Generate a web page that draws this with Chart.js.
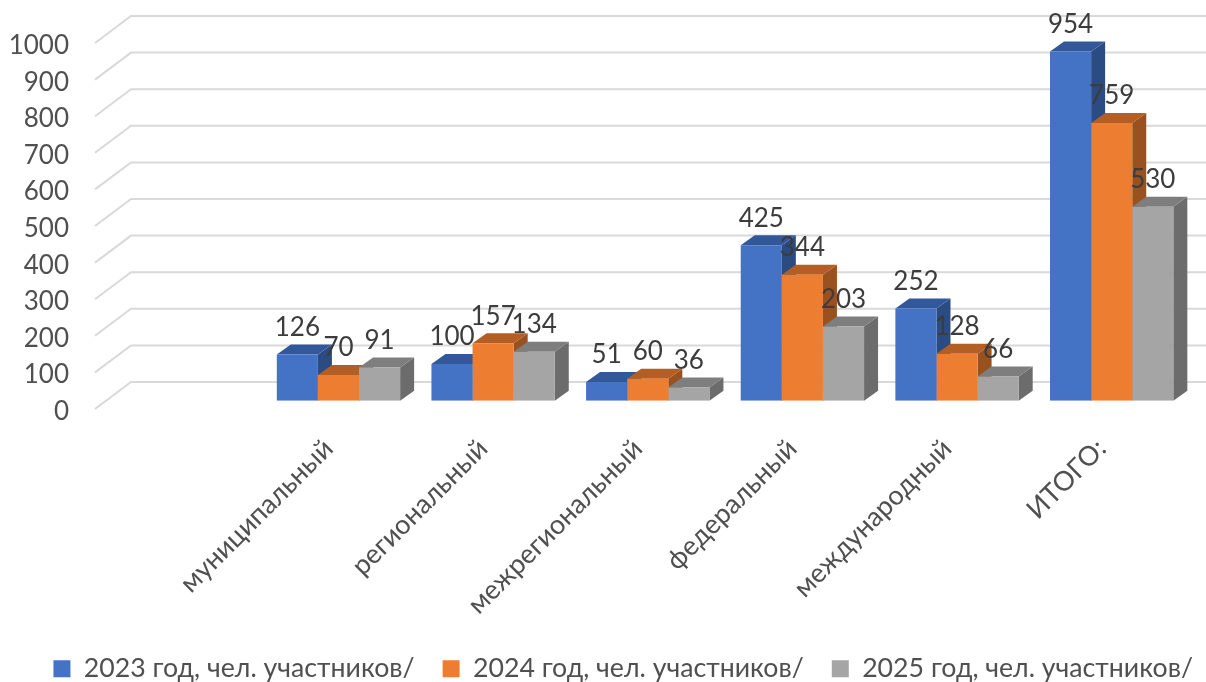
<!DOCTYPE html>
<html>
<head>
<meta charset="utf-8">
<script src="https://cdn.jsdelivr.net/npm/chart.js@4"></script>
<style>
  html, body { margin: 0; padding: 0; background: #fff; }
  #chart { display: block; }
</style>
</head>
<body>
<canvas id="chart" width="1206" height="682"></canvas>
<script>
// first category is blank, the source table has an empty row there
const categories = ['', 'муниципальный', 'региональный', 'межрегиональный', 'федеральный', 'международный', 'ИТОГО:'];
const values2023 = [null, 126, 100, 51, 425, 252, 954];
const values2024 = [null, 70, 157, 60, 344, 128, 759];
const values2025 = [null, 91, 134, 36, 203, 66, 530];
const seriesNames = ['2023 год, чел. участников/', '2024 год, чел. участников/', '2025 год, чел. участников/'];
const frontColors = ['#4472C4', '#ED7D31', '#A5A5A5'];
const topColors = ['#335899', '#B25E25', '#7E7E7E'];
const sideColors = ['#2B4B83', '#9A5120', '#6C6C6C'];

const FONT = 'Lato, "Open Sans", sans-serif';
const BAR_DX = 14, BAR_DY = 10;

// fake 3D: back wall grid + left wall diagonals, bar sides, value labels
const depthPlugin = {
    id: 'depth',
    afterLayout(chart) {
        // nudge the legend, it isn't centred in the original
        const legend = chart.legend;
        legend.left += 20.2;
        legend.right += 20.2;
        legend.top += 10.2;
        legend.bottom += 10.2;
    },
    beforeDatasetsDraw(chart) {
        const { ctx, scales: { x, y } } = chart;
        ctx.save();
        ctx.strokeStyle = '#D9D9D9';
        ctx.lineWidth = 2;
        y.ticks.forEach(t => {
            const py = y.getPixelForValue(t.value);
            ctx.beginPath();
            ctx.moveTo(x.left - 11.5, py + 8.3);
            ctx.lineTo(x.left + 24.5, py - 18.7);
            ctx.lineTo(chart.width, py - 18.7);
            ctx.stroke();
        });
        // sides and tops go under the native bars, in series order
        chart.data.datasets.forEach((ds, i) => {
            chart.getDatasetMeta(i).data.forEach((bar, j) => {
                if (ds.data[j] == null) return;
                const half = bar.width / 2;
                const l = bar.x - half, r = bar.x + half;
                ctx.fillStyle = sideColors[i];
                ctx.beginPath();
                ctx.moveTo(r, bar.y);
                ctx.lineTo(r + BAR_DX, bar.y - BAR_DY);
                ctx.lineTo(r + BAR_DX, bar.base - BAR_DY);
                ctx.lineTo(r, bar.base);
                ctx.fill();
                ctx.fillStyle = topColors[i];
                ctx.beginPath();
                ctx.moveTo(l, bar.y);
                ctx.lineTo(l + BAR_DX, bar.y - BAR_DY);
                ctx.lineTo(r + BAR_DX, bar.y - BAR_DY);
                ctx.lineTo(r, bar.y);
                ctx.fill();
            });
        });
        ctx.restore();
    },
    afterDatasetsDraw(chart) {
        const { ctx } = chart;
        ctx.save();
        ctx.fillStyle = '#3C3C3C';
        ctx.font = '26px ' + FONT;
        ctx.textAlign = 'center';
        ctx.textBaseline = 'middle';
        chart.data.datasets.forEach((ds, i) => {
            chart.getDatasetMeta(i).data.forEach((bar, j) => {
                if (ds.data[j] == null) return;
                ctx.fillText(ds.data[j], bar.x, bar.y - 27);
            });
        });
        ctx.restore();
    }
};

new Chart(document.getElementById('chart'), {
    type: 'bar',
    data: {
        labels: categories,
        datasets: [values2023, values2024, values2025].map((vals, i) => ({
            label: seriesNames[i],
            data: vals,
            backgroundColor: frontColors[i],
            categoryPercentage: 0.7975,
            barPercentage: 1
        }))
    },
    plugins: [depthPlugin],
    options: {
        responsive: false,
        animation: false,
        layout: { padding: { left: 0, top: 34.7, right: 0, bottom: 0 } },
        plugins: {
            tooltip: { enabled: false },
            legend: {
                position: 'bottom',
                labels: {
                    boxWidth: 17,
                    boxHeight: 17,
                    padding: 28,
                    color: '#505050',
                    font: { family: FONT, size: 26.7 }
                }
            }
        },
        scales: {
            x: {
                grid: { display: false },
                border: { display: false },
                afterFit(s) {
                    s.height = 216.6;
                    s.paddingLeft = 0;
                    s.paddingRight = 17;
                },
                ticks: {
                    autoSkip: false,
                    minRotation: 45,
                    maxRotation: 45,
                    padding: 24,
                    labelOffset: -10,
                    color: '#505050',
                    font: { family: FONT, size: 27 }
                }
            },
            y: {
                min: 0,
                max: 1000,
                grid: { display: false },
                border: { display: false },
                afterFit(s) {
                    s.width = 106.5;
                    s.paddingTop = 0;
                    s.paddingBottom = 0;
                },
                ticks: {
                    stepSize: 100,
                    autoSkip: false,
                    padding: 29.5,
                    labelOffset: 11,
                    color: '#505050',
                    font: { family: FONT, size: 26 },
                    callback: v => String(v)
                }
            }
        }
    }
});
</script>
</body>
</html>
